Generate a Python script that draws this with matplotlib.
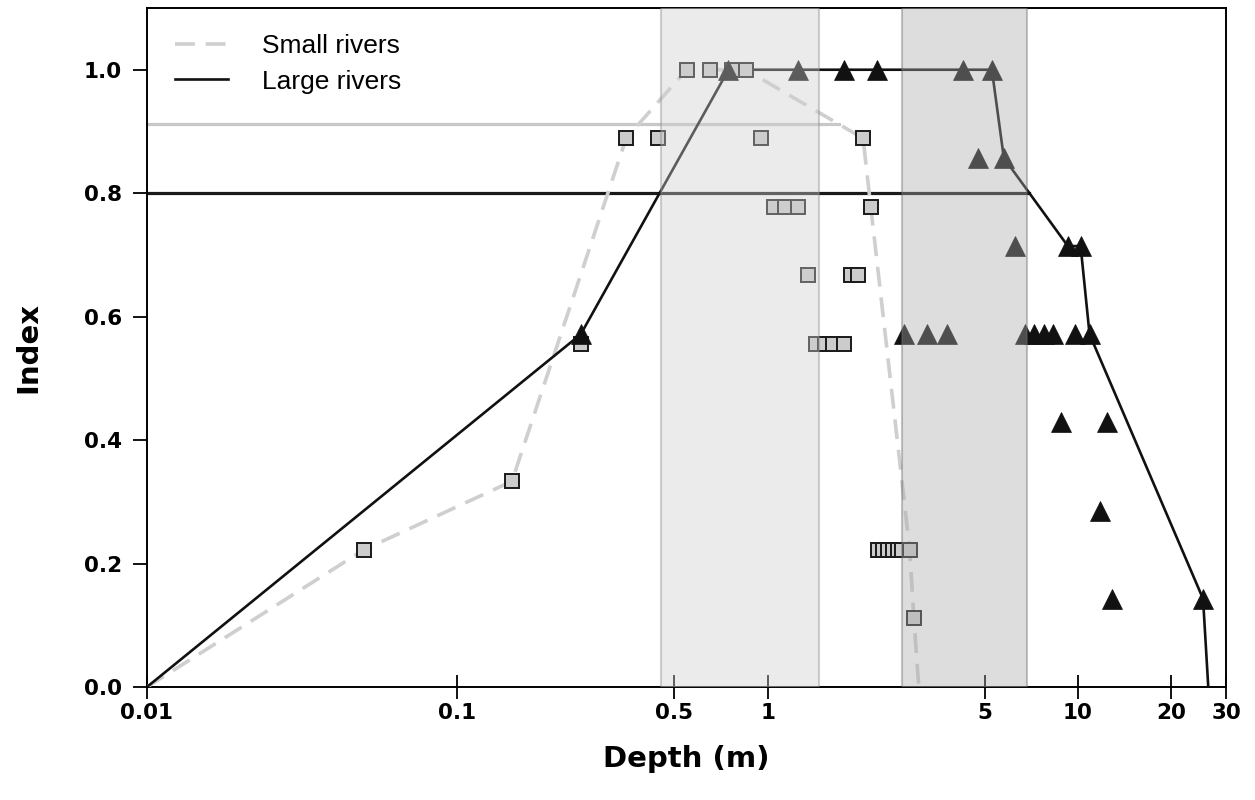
import matplotlib
matplotlib.use("Agg")
import matplotlib.pyplot as plt
import numpy as np

# small rivers: observed depth (m) and index (steps of 1/9)
sr_depth = [0.05, 0.15, 0.25,
            0.35, 0.445, 0.949, 2.03,
            0.548, 0.65, 0.765, 0.85,
            1.045, 1.14, 1.25, 2.15,
            1.35, 1.85, 1.95,
            1.43, 1.53, 1.63, 1.76,
            2.26, 2.35, 2.44, 2.53, 2.63, 2.72, 2.87,
            2.96]
sr_index = ([2/9, 3/9, 5/9] + [8/9] * 4 + [1.0] * 4 + [7/9] * 4 + [6/9] * 3
            + [5/9] * 4 + [2/9] * 7 + [1/9])

# large rivers: observed depth (m) and index (steps of 1/7)
lr_depth = [0.748, 1.25, 1.76, 2.25, 4.26, 5.28,
            4.76, 5.77,
            6.26, 9.28, 10.2,
            0.25, 2.75, 3.26, 3.78, 6.75, 7.21, 7.77, 8.30, 9.8, 10.9,
            8.81, 12.4,
            11.8,
            12.9, 25.3]
lr_index = ([1.0] * 6 + [6/7] * 2 + [5/7] * 3 + [4/7] * 10 + [3/7] * 2
            + [2/7] + [1/7] * 2)

# fitted suitability curves
sr_curve_x = [0.01, 0.05, 0.15, 0.35, 0.548, 0.85, 2.03, 2.15, 2.87, 2.96, 3.07]
sr_curve_y = [0.0, 2/9, 3/9, 8/9, 1.0, 1.0, 8/9, 7/9, 2/9, 1/9, 0.0]
lr_curve_x = [0.01, 0.25, 0.748, 5.28, 5.77, 9.28, 10.2, 10.9, 25.3, 26.3]
lr_curve_y = [0.0, 4/7, 1.0, 1.0, 6/7, 5/7, 5/7, 4/7, 1/7, 0.0]

# thresholds and optimal depth ranges
sr_thresh = 0.912
lr_thresh = 0.80
sr_range = (0.452, 1.46)
lr_range = (2.72, 6.85)

xticks = [0.01, 0.1, 0.5, 1, 5, 10, 20, 30]
xticklabels = ["0.01", "0.1", "0.5", "1", "5", "10", "20", "30"]
yticks = [0.0, 0.2, 0.4, 0.6, 0.8, 1.0]


def falling_crossing(xs, ys, level):
    # depth where the descending limb of a curve drops through level
    i = int(np.argmax(ys))
    while i + 1 < len(ys) and ys[i + 1] >= ys[i]:
        i += 1
    xs_d = np.log10(xs[i:])[::-1]
    ys_d = np.array(ys[i:])[::-1]
    return 10 ** np.interp(level, ys_d, xs_d)


fig = plt.figure(figsize=(12.55, 8), dpi=100)
ax = fig.add_axes([0.1171, 0.14125, 0.8598, 0.84875])

# threshold lines
ax.plot([0.01, falling_crossing(sr_curve_x, sr_curve_y, sr_thresh)], [sr_thresh] * 2,
        color="#c8c8c8", lw=2.3, zorder=2)
ax.plot([0.01, falling_crossing(lr_curve_x, lr_curve_y, lr_thresh)], [lr_thresh] * 2,
        color="#1a1a1a", lw=2.3, zorder=2)

# curves
ax.plot(sr_curve_x, sr_curve_y, color="#cfcfcf", lw=2.6, dashes=(5.5, 3),
        label="Small rivers", zorder=3)
ax.plot(lr_curve_x, lr_curve_y, color="#111111", lw=1.9,
        label="Large rivers", zorder=3)

# observations
ax.plot(sr_depth, sr_index, ls="none", marker="s", ms=9.8, mfc="#cccccc",
        mec="#1a1a1a", mew=1.4, zorder=4)
ax.plot(lr_depth, lr_index, ls="none", marker="^", ms=15, mfc="#111111",
        mec="#111111", mew=0.5, zorder=5)

# shaded depth ranges laid over everything
ax.axvspan(*sr_range, facecolor="#cfcfcf", edgecolor="#8a8a8a", lw=1.5,
           alpha=0.4, zorder=6)
ax.axvspan(*lr_range, facecolor="#aaaaaa", edgecolor="#6a6a6a", lw=1.5,
           alpha=0.4, zorder=6)

ax.set_xscale("log")
ax.set_xlim(0.01, 30)
ax.set_ylim(0, 1.1)
ax.set_xticks(xticks)
ax.set_xticklabels(xticklabels)
ax.xaxis.set_minor_locator(matplotlib.ticker.NullLocator())
ax.set_yticks(yticks)
ax.set_yticklabels([f"{v:.1f}" for v in yticks])

tick_font = dict(family="DejaVu Sans", weight="bold", size=15.5)
for lab in ax.get_xticklabels() + ax.get_yticklabels():
    lab.set_fontproperties(matplotlib.font_manager.FontProperties(**tick_font))

ax.tick_params(axis="x", direction="inout", length=17, width=1.3, pad=3)
ax.tick_params(axis="y", direction="out", length=10, width=1.3, pad=8)
for sp in ax.spines.values():
    sp.set_linewidth(1.4)

ax.set_xlabel("Depth (m)", family="DejaVu Sans", weight="bold", size=21,
              labelpad=16)
ax.set_ylabel("Index", family="DejaVu Sans", weight="bold", size=21,
              labelpad=30)

ax.legend(loc="upper left", bbox_to_anchor=(0.026, 0.962), frameon=False,
          borderpad=0, borderaxespad=0, handlelength=2.0, handletextpad=1.3,
          labelspacing=0.45, prop=dict(family="Liberation Sans", size=19))

fig.savefig("out.png", dpi=100)
